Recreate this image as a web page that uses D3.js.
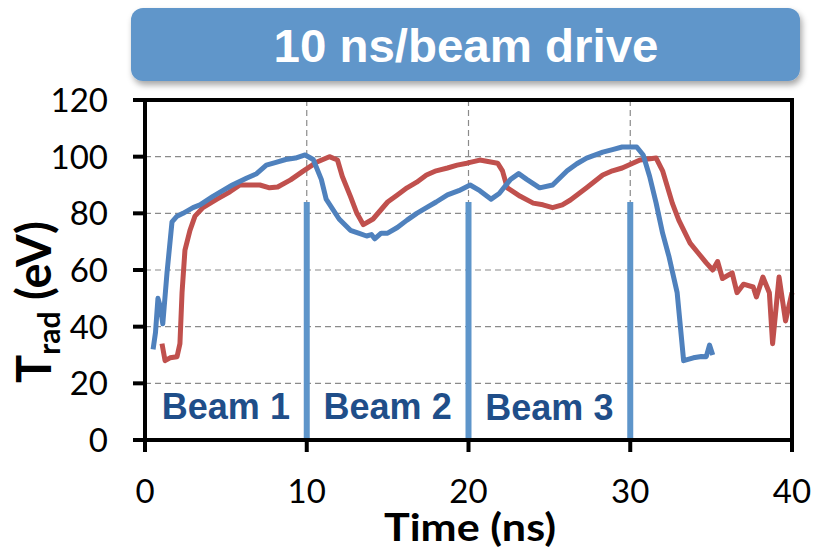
<!DOCTYPE html>
<html>
<head>
<meta charset="utf-8">
<script src="https://cdn.jsdelivr.net/npm/d3@7"></script>
<style>
  body { margin: 0; background: #fff; }
  svg { display: block; }
</style>
</head>
<body>
<div id="chart"></div>
<script>
// blue trace (t in ns, Trad in eV)
const blueTime = [0.5, 0.65, 0.8, 0.95, 1.1, 1.36, 1.67, 1.98, 2.35, 2.97, 3.4, 4.2, 4.8, 5.4, 6.3, 6.9, 7.5, 8.1, 8.7, 9.3, 9.9,
  10.4, 10.9, 11.2, 12.0, 12.7, 13.2, 13.7, 14.0, 14.2, 14.6, 15.0, 15.6, 16.2, 16.8, 17.4, 18.0, 18.7, 19.4, 20.1,
  20.7, 21.4, 21.9, 22.6, 23.1, 23.6, 24.4, 25.2, 26.1, 26.7, 27.3, 28.3, 28.9, 29.5, 30.4, 30.8, 31.2, 31.6, 32.0,
  32.4, 32.9, 33.1, 33.3, 33.9, 34.4, 34.7, 34.9, 35.1];
const blueTrad = [32, 38, 50, 47, 41, 59, 77, 79, 80, 82, 83, 86, 88, 90, 92.5, 94, 97, 98, 99, 99.5, 100.6,
  99, 92, 85, 78, 74, 73, 72, 72.5, 71, 73, 73, 75, 77.6, 80, 82, 84, 86.5, 88, 90,
  88, 85, 87, 92, 94, 92, 89, 90, 95, 97.5, 99.5, 101.6, 102.5, 103.4, 103.4, 100.6, 93, 83.6, 73,
  64.6, 52, 40, 28, 29, 29.5, 29.4, 33.5, 30];

// red trace
const redTime = [1.05, 1.24, 1.55, 1.98, 2.16, 2.29, 2.47, 2.78, 3.09, 3.58, 4.45, 5.25, 5.87, 6.5, 7.1, 7.7, 8.2, 9.0, 9.8,
  10.6, 11.4, 11.9, 12.2, 12.7, 13.1, 13.5, 14.1, 15.0, 15.6, 16.2, 16.8, 17.4, 18.0, 18.7, 19.3, 19.9, 20.7, 21.8,
  22.1, 22.4, 23.2, 24.0, 24.6, 25.2, 25.8, 26.3, 27.3, 28.3, 28.9, 29.5, 30.6, 31.6, 32.0, 32.6, 33.0, 33.7, 34.2,
  34.7, 35.1, 35.4, 35.7, 36.3, 36.6, 37.0, 37.6, 37.8, 38.2, 38.6, 38.8, 39.2, 39.6, 40.0];
const redTrad = [34, 28, 29, 29.4, 34, 52, 67, 74, 79, 82, 85, 87.6, 90, 90, 90, 89, 89.3, 91.8, 95,
  98, 100, 98.8, 93, 86, 80, 76, 78, 84, 86.5, 89, 91, 93.5, 95, 96, 97, 97.7, 98.8, 97.7,
  95, 89, 86, 83.6, 83, 82, 83, 84.7, 89, 93.5, 95, 96, 98.8, 99.5, 95, 83.6, 77.6, 69.5, 66,
  62.5, 60, 63, 57, 59, 52, 55, 54, 50.5, 57.5, 52, 34, 57.5, 42, 52];

const beamTimes = [10, 20, 30];
const beamTop = 84;
const beamNames = ["Beam 1", "Beam 2", "Beam 3"];

const xTicks = [0, 10, 20, 30, 40];
const yTicks = [0, 20, 40, 60, 80, 100, 120];
const titleText = "10 ns/beam drive";

const width = 815, height = 551;
const svg = d3.select("#chart").append("svg")
  .attr("width", width)
  .attr("height", height);

const x = d3.scaleLinear().domain([0, 40]).range([145, 792]);
const y = d3.scaleLinear().domain([0, 120]).range([440, 100]);

// banner
const defs = svg.append("defs");
const shadow = defs.append("filter").attr("id", "shadow")
  .attr("x", "-5%").attr("y", "-20%").attr("width", "110%").attr("height", "150%");
shadow.append("feDropShadow")
  .attr("dx", 2).attr("dy", 4).attr("stdDeviation", 3)
  .attr("flood-color", "#000").attr("flood-opacity", 0.35);

svg.append("rect")
  .attr("x", 131).attr("y", 8)
  .attr("width", 669).attr("height", 73)
  .attr("rx", 12)
  .attr("fill", "#6196CA")
  .attr("filter", "url(#shadow)");

svg.append("text")
  .attr("x", 466).attr("y", 62)
  .attr("text-anchor", "middle")
  .attr("font-family", "Liberation Sans, Arial, sans-serif")
  .attr("font-weight", "bold")
  .attr("font-size", 46)
  .attr("fill", "#fff")
  .attr("textLength", 385)
  .attr("lengthAdjust", "spacingAndGlyphs")
  .text(titleText);

// grid
const g = svg.append("g");
g.selectAll(".hgrid")
  .data(yTicks.filter(v => v > 0 && v < 120))
  .enter().append("line")
  .attr("x1", x(0)).attr("x2", x(40))
  .attr("y1", d => y(d)).attr("y2", d => y(d))
  .attr("stroke", "#8a8a8a").attr("stroke-width", 1.2)
  .attr("stroke-dasharray", "6,4");

g.selectAll(".vgrid")
  .data(xTicks.filter(v => v > 0 && v < 40))
  .enter().append("line")
  .attr("x1", d => x(d)).attr("x2", d => x(d))
  .attr("y1", y(120)).attr("y2", y(0))
  .attr("stroke", "#8a8a8a").attr("stroke-width", 1.2)
  .attr("stroke-dasharray", "6,4");

// beam markers
g.selectAll(".beam")
  .data(beamTimes)
  .enter().append("line")
  .attr("x1", d => x(d)).attr("x2", d => x(d))
  .attr("y1", y(0)).attr("y2", y(beamTop))
  .attr("stroke", "#5E95CA").attr("stroke-width", 6);

const line = d3.line()
  .x(d => x(d[0]))
  .y(d => y(d[1]));

g.append("path")
  .datum(redTime.map((t, i) => [t, redTrad[i]]))
  .attr("d", line)
  .attr("fill", "none")
  .attr("stroke", "#C0504D")
  .attr("stroke-width", 5)
  .attr("stroke-linejoin", "round");

g.append("path")
  .datum(blueTime.map((t, i) => [t, blueTrad[i]]))
  .attr("d", line)
  .attr("fill", "none")
  .attr("stroke", "#4F81BD")
  .attr("stroke-width", 5)
  .attr("stroke-linejoin", "round");

g.selectAll(".beamlbl")
  .data(beamNames)
  .enter().append("text")
  .attr("x", (d, i) => x(beamTimes[i] - 5))
  .attr("y", (d, i) => i == 2 ? 420 : 419)
  .attr("text-anchor", "middle")
  .attr("font-family", "Liberation Sans, Arial, sans-serif")
  .attr("font-weight", "bold")
  .attr("font-size", 36)
  .attr("fill", "#1F4E89")
  .text(d => d);

// frame + ticks
svg.append("rect")
  .attr("x", x(0)).attr("y", y(120))
  .attr("width", x(40) - x(0)).attr("height", y(0) - y(120))
  .attr("fill", "none")
  .attr("stroke", "#000").attr("stroke-width", 4);

svg.selectAll(".ytick")
  .data(yTicks)
  .enter().append("line")
  .attr("x1", x(0) - 12).attr("x2", x(0))
  .attr("y1", d => y(d)).attr("y2", d => y(d))
  .attr("stroke", "#000").attr("stroke-width", 4);

svg.selectAll(".xtick")
  .data(xTicks)
  .enter().append("line")
  .attr("x1", d => x(d)).attr("x2", d => x(d))
  .attr("y1", y(0)).attr("y2", y(0) + 12)
  .attr("stroke", "#000").attr("stroke-width", 4);

const tickFont = "Lato, Carlito, sans-serif";
svg.selectAll(".ylbl")
  .data(yTicks)
  .enter().append("text")
  .attr("x", 108)
  .attr("y", d => y(d))
  .attr("dy", "0.36em")
  .attr("text-anchor", "end")
  .attr("font-family", tickFont)
  .attr("font-size", 33)
  .text(d => d);

svg.selectAll(".xlbl")
  .data(xTicks)
  .enter().append("text")
  .attr("x", d => x(d))
  .attr("y", 503)
  .attr("text-anchor", "middle")
  .attr("font-family", tickFont)
  .attr("font-size", 33)
  .text(d => d);

svg.append("text")
  .attr("x", 470).attr("y", 541)
  .attr("text-anchor", "middle")
  .attr("font-family", tickFont)
  .attr("font-weight", "bold")
  .attr("font-size", 38)
  .attr("textLength", 172)
  .attr("lengthAdjust", "spacingAndGlyphs")
  .text("Time (ns)");

const ytitle = svg.append("text")
  .attr("transform", "translate(51,302) rotate(-90)")
  .attr("text-anchor", "middle")
  .attr("font-family", tickFont)
  .attr("font-weight", "bold")
  .attr("font-size", 47);
ytitle.append("tspan").text("T");
ytitle.append("tspan").attr("font-size", 30).attr("dy", 9).text("rad");
ytitle.append("tspan").attr("dy", -9).text(" (eV)");
</script>
</body>
</html>
